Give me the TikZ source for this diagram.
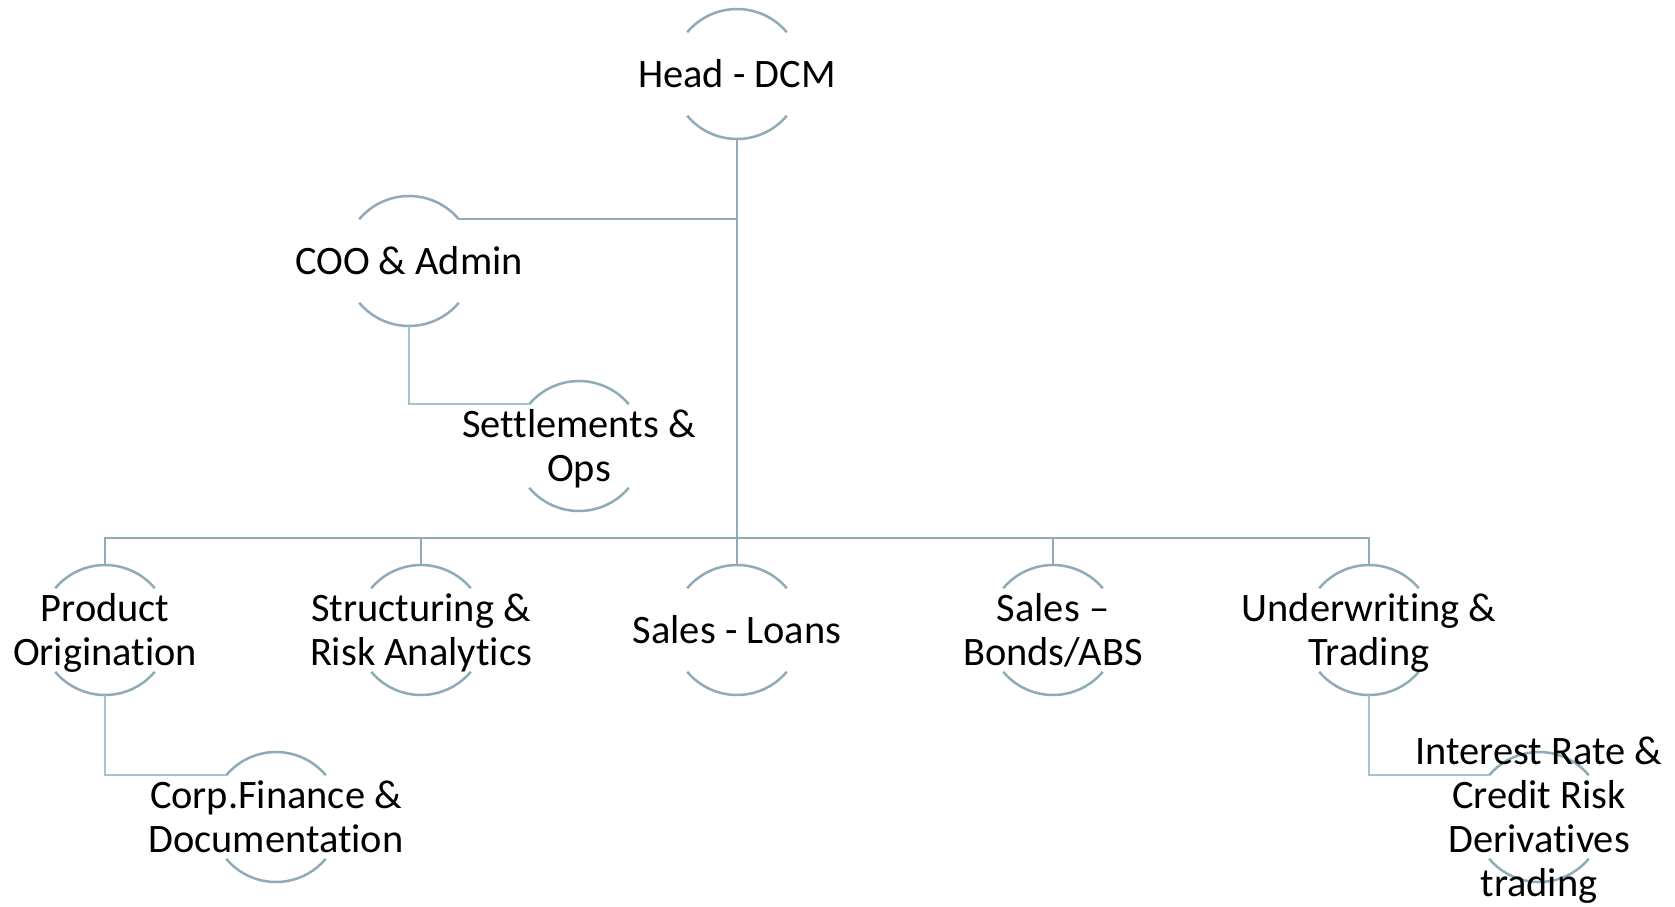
\documentclass[tikz,border=0pt]{standalone}
\usepackage{fontspec}
\setmainfont{Carlito}[RawFeature={-liga;-clig;-calt;-dlig}]
\newcommand\mystrut{\rule[-9pt]{0pt}{44pt}}
\definecolor{linec}{HTML}{8FABB7}
\definecolor{subc}{HTML}{A5C2CF}
\tikzset{
  ring/.style={circle, minimum size=130pt, inner sep=0pt, outer sep=0pt, draw=none},
  txt/.style={inner sep=0pt, outer sep=0pt, align=center, font=\fontsize{40.4pt}{44pt}\selectfont, text=black},
  arcline/.style={draw=linec, line width=2.5pt},
  conn/.style={draw=linec, line width=2.5pt},
  trunk/.style={draw=linec, line width=2.8pt},
  subconn/.style={draw=subc, line width=2.4pt},
}
\begin{document}
\begin{tikzpicture}[x=1pt,y=1pt]
\useasboundingbox (0,0) rectangle (1675,-906);
% circles
\node[ring] (head)   at (737,-74)  {};
\node[ring] (coo)    at (409,-261) {};
\node[ring] (settle) at (579,-446) {};
\node[ring] (prod)   at (105,-630) {};
\node[ring] (struct) at (421,-630) {};
\node[ring] (sloan)  at (737,-630) {};
\node[ring] (sbond)  at (1053,-630) {};
\node[ring] (under)  at (1369,-630) {};
\node[ring] (corp)   at (276,-817) {};
\node[ring] (ird)    at (1539,-817) {};
\coordinate (bus) at (737,-538);
% arcs
\foreach \n in {head,coo,settle,prod,struct,sloan,sbond,under,corp,ird}{
  \draw[arcline] (\n.40) arc[start angle=40, end angle=140, radius=65pt];
  \draw[arcline] (\n.220) arc[start angle=220, end angle=320, radius=65pt];
}
% connectors
\draw[trunk] (head.south) -- (sloan.north);
\draw[conn] (coo.40) -- (coo.40 -| head.south);
\draw[conn] (prod.north) |- (bus) -| (under.north);
\draw[conn] (struct.north) -- (struct.north |- bus);
\draw[conn] (sbond.north) -- (sbond.north |- bus);
\draw[subconn] (coo.south) |- (settle.140);
\draw[subconn] (prod.south) |- (corp.140);
\draw[subconn] (under.south) |- (ird.140);
% texts
\node[txt] (head-t)   at (head)   {\mystrut Head - DCM};
\node[txt] (coo-t)    at (coo)    {\mystrut COO \& Admin};
\node[txt] (settle-t) at (settle) {\mystrut Settlements \&\\\mystrut Ops};
\node[txt] (prod-t)   at (prod)   {\mystrut Product\\\mystrut Origination};
\node[txt] (struct-t) at (struct) {\mystrut Structuring \&\\\mystrut Risk Analytics};
\node[txt] (sloan-t)  at (sloan)  {\mystrut Sales - Loans};
\node[txt] (sbond-t)  at (sbond)  {\mystrut Sales –\\\mystrut Bonds/ABS};
\node[txt] (under-t)  at (under)  {\mystrut Underwriting \&\\\mystrut Trading};
\node[txt] (corp-t)   at (corp)   {\mystrut Corp.Finance \&\\\mystrut Documentation};
\node[txt] (ird-t)    at (ird)    {\mystrut Interest Rate \&\\\mystrut Credit Risk\\\mystrut Derivatives\\\mystrut trading};
\end{tikzpicture}
\end{document}
